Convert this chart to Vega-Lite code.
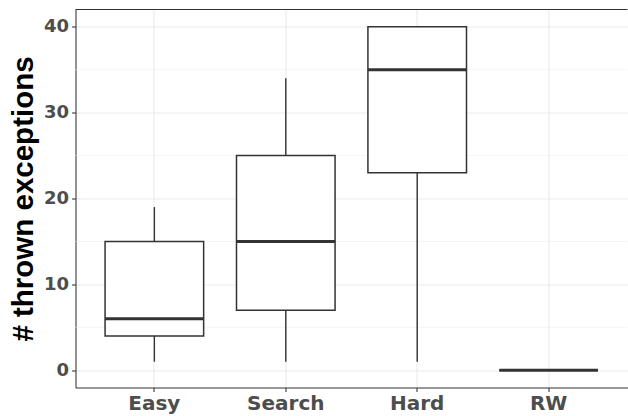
{
  "$schema": "https://vega.github.io/schema/vega-lite/v6.json",
  "width": 552,
  "height": 378,
  "autosize": {"type": "none"},
  "padding": {"left": 75.5, "top": 9.5, "right": 0.5, "bottom": 28.5},
  "background": "white",
  "config": {"view": {"stroke": null}, "font": "DejaVu Sans"},
  "datasets": {
    "boxes": [
      {"cat": "Easy", "lower": 1, "q1": 4, "median": 6, "q3": 15, "upper": 19},
      {"cat": "Search", "lower": 1, "q1": 7, "median": 15, "q3": 25, "upper": 34},
      {"cat": "Hard", "lower": 1, "q1": 23, "median": 35, "q3": 40, "upper": 40},
      {"cat": "RW", "lower": 0, "q1": 0, "median": 0, "q3": 0, "upper": 0}
    ],
    "minor": [{"v": 5}, {"v": 15}, {"v": 25}, {"v": 35}],
    "top": [{"v": 42}]
  },
  "layer": [
    {
      "data": {"name": "minor"},
      "mark": {"type": "rule", "color": "#EBEBEB", "strokeWidth": 0.55},
      "encoding": {
        "y": {
          "field": "v", "type": "quantitative",
          "scale": {"domain": [-2, 42], "nice": false, "zero": false},
          "axis": {
            "values": [0, 10, 20, 30, 40], "grid": true, "gridColor": "#EBEBEB", "gridWidth": 1.07,
            "labelFont": "DejaVu Sans", "labelFontWeight": "bold", "labelFontSize": 18, "labelColor": "#4D4D4D",
            "labelPadding": 3, "tickColor": "#333333", "tickSize": 4, "tickWidth": 1.07,
            "domainColor": "#333333", "domainWidth": 1.07,
            "title": "# thrown exceptions", "titleFont": "Liberation Sans", "titleFontSize": 29.5, "titleFontWeight": "bold",
            "titleColor": "#000000", "titlePadding": 5
          }
        }
      }
    },
    {
      "data": {"name": "boxes"},
      "mark": {"type": "rule", "color": "#333333", "strokeWidth": 1.4},
      "encoding": {
        "x": {
          "field": "cat", "type": "nominal", "sort": ["Easy", "Search", "Hard", "RW"],
          "scale": {"type": "band", "paddingInner": 0, "paddingOuter": 0.1},
          "axis": {
            "title": null, "bandPosition": 0.5, "grid": true, "gridColor": "#EBEBEB", "gridWidth": 1.07,
            "labelAngle": 0, "labelFont": "DejaVu Sans", "labelFontWeight": "bold", "labelFontSize": 20,
            "labelColor": "#4D4D4D", "labelPadding": 2, "tickColor": "#333333", "tickSize": 4, "tickWidth": 1.07,
            "domainColor": "#333333", "domainWidth": 1.07
          }
        },
        "y": {"field": "lower", "type": "quantitative", "title": "# thrown exceptions"},
        "y2": {"field": "q1"}
      }
    },
    {
      "data": {"name": "boxes"},
      "mark": {"type": "rule", "color": "#333333", "strokeWidth": 1.4},
      "encoding": {
        "x": {"field": "cat", "type": "nominal", "sort": ["Easy", "Search", "Hard", "RW"]},
        "y": {"field": "q3", "type": "quantitative", "title": "# thrown exceptions"},
        "y2": {"field": "upper"}
      }
    },
    {
      "data": {"name": "boxes"},
      "mark": {"type": "bar", "fill": "white", "stroke": "#333333", "strokeWidth": 1.5, "width": {"band": 0.75}},
      "encoding": {
        "x": {"field": "cat", "type": "nominal", "sort": ["Easy", "Search", "Hard", "RW"]},
        "y": {"field": "q1", "type": "quantitative", "title": "# thrown exceptions"},
        "y2": {"field": "q3"}
      }
    },
    {
      "data": {"name": "boxes"},
      "mark": {"type": "tick", "color": "#333333", "thickness": 3, "size": 98.6, "opacity": 1},
      "encoding": {
        "x": {"field": "cat", "type": "nominal", "sort": ["Easy", "Search", "Hard", "RW"]},
        "y": {"field": "median", "type": "quantitative", "title": "# thrown exceptions"}
      }
    },
    {
      "data": {"name": "top"},
      "mark": {"type": "rule", "color": "#333333", "strokeWidth": 1.07},
      "encoding": {
        "y": {"field": "v", "type": "quantitative", "title": "# thrown exceptions"}
      }
    }
  ]
}
